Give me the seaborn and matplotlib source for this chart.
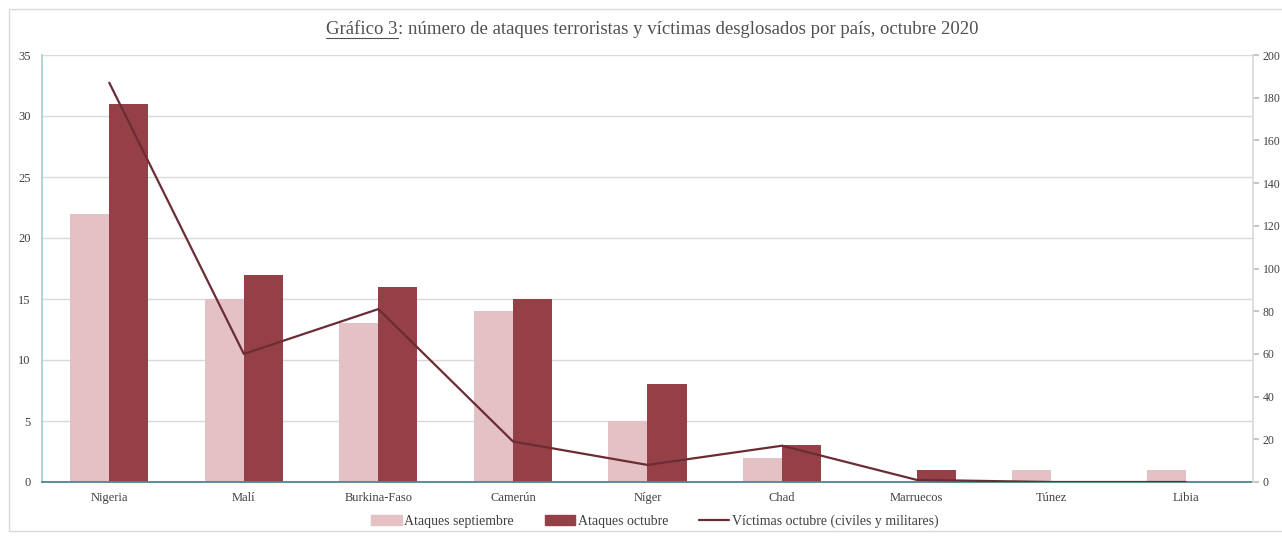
import matplotlib
matplotlib.use("Agg")
import matplotlib.pyplot as plt
from matplotlib.patches import Rectangle, Patch
from matplotlib.lines import Line2D
import pandas as pd
import seaborn as sns

# ---- data ----
countries = ["Nigeria", "Malí", "Burkina-Faso", "Camerún", "Níger",
             "Chad", "Marruecos", "Túnez", "Libia"]
attacks_sep = [22, 15, 13, 14, 5, 2, 0, 1, 1]
attacks_oct = [31, 17, 16, 15, 8, 3, 1, 0, 0]
victims_oct = [187, 60, 81, 19, 8, 17, 1, 0, 0]

label_sep = "Ataques septiembre"
label_oct = "Ataques octubre"
label_vic = "Víctimas octubre (civiles y militares)"

col_sep = "#E3C1C4"
col_oct = "#954047"
col_line = "#6B2C34"

sns.set_theme(style="white")
plt.rcParams["font.family"] = ["Liberation Serif", "DejaVu Serif"]
plt.rcParams["text.color"] = "#404040"

bars = pd.DataFrame({
    "country": countries * 2,
    "value": attacks_sep + attacks_oct,
    "serie": [label_sep] * len(countries) + [label_oct] * len(countries),
})

fig = plt.figure(figsize=(12.82, 5.37), dpi=100)
ax = fig.add_axes([42 / 1282, 1 - 482 / 537, (1253 - 42) / 1282, (482 - 55) / 537])

sns.barplot(data=bars, x="country", y="value", hue="serie",
            palette=[col_sep, col_oct], width=0.58, gap=0, linewidth=0,
            order=countries, ax=ax, legend=False, saturation=1)

ax.set_ylim(0, 35)
ax.set_yticks(range(0, 36, 5))
ax.set_xlim(-0.5, len(countries) - 0.5)
ax.grid(axis="y", color="#D9D9D9", linewidth=1)
ax.set_axisbelow(True)
ax.set_xlabel("")
ax.set_ylabel("")
ax.tick_params(axis="both", labelsize=9, colors="#404040", length=0, pad=8)
ax.tick_params(axis="x", pad=7)
for s in ["top", "right"]:
    ax.spines[s].set_visible(False)
ax.spines["left"].set_color("#A9CDD0")
ax.spines["bottom"].set_color("#4D8791")
ax.spines["bottom"].set_linewidth(1.3)

ax2 = ax.twinx()
sns.lineplot(x=list(range(len(countries))), y=victims_oct, color=col_line,
             linewidth=1.6, ax=ax2)
ax2.set_ylim(0, 200)
ax2.set_yticks(range(0, 201, 20))
ax2.tick_params(axis="y", labelsize=8.5, colors="#404040", length=4,
                direction="out", pad=3)
ax2.tick_params(axis="y", color="#BFBFBF")
for s in ["top", "left", "bottom"]:
    ax2.spines[s].set_visible(False)
ax2.spines["right"].set_color("#D9D9D9")
ax2.grid(False)

# legend at the bottom
handles = [Patch(color=col_sep), Patch(color=col_oct),
           Line2D([0], [0], color=col_line, linewidth=1.6)]
fig.legend(handles, [label_sep, label_oct, label_vic], loc="center",
           bbox_to_anchor=(655 / 1282, 1 - 521 / 537), ncol=3, frameon=False,
           fontsize=10, handlelength=2.2, handletextpad=0.2, columnspacing=2.2)

# title with underlined "Gráfico 3"
r = fig.canvas.get_renderer()
ty = 1 - 30 / 537
t1 = fig.text(0, ty, "Gráfico 3", fontsize=13.5, va="center", ha="left",
              color="#505050")
t2 = fig.text(0, ty, ": número de ataques terroristas y víctimas desglosados por país, octubre 2020",
              fontsize=13.5, va="center", ha="left", color="#505050")
w1 = t1.get_window_extent(r).width / fig.bbox.width
w2 = t2.get_window_extent(r).width / fig.bbox.width
x0 = 652 / 1282 - (w1 + w2) / 2
t1.set_x(x0)
t2.set_x(x0 + w1)
bb = t1.get_window_extent(r)
uy = (bb.y0 + 1) / fig.bbox.height
fig.add_artist(Line2D([x0, x0 + w1], [uy, uy], color="#505050", linewidth=0.8,
                      transform=fig.transFigure))

# outer frame
fig.add_artist(Rectangle((9 / 1282, 1 - 531 / 537), 1.2, 522 / 537,
                         transform=fig.transFigure, fill=False,
                         edgecolor="#D9D9D9", linewidth=1))

fig.savefig("out.png", dpi=100)
